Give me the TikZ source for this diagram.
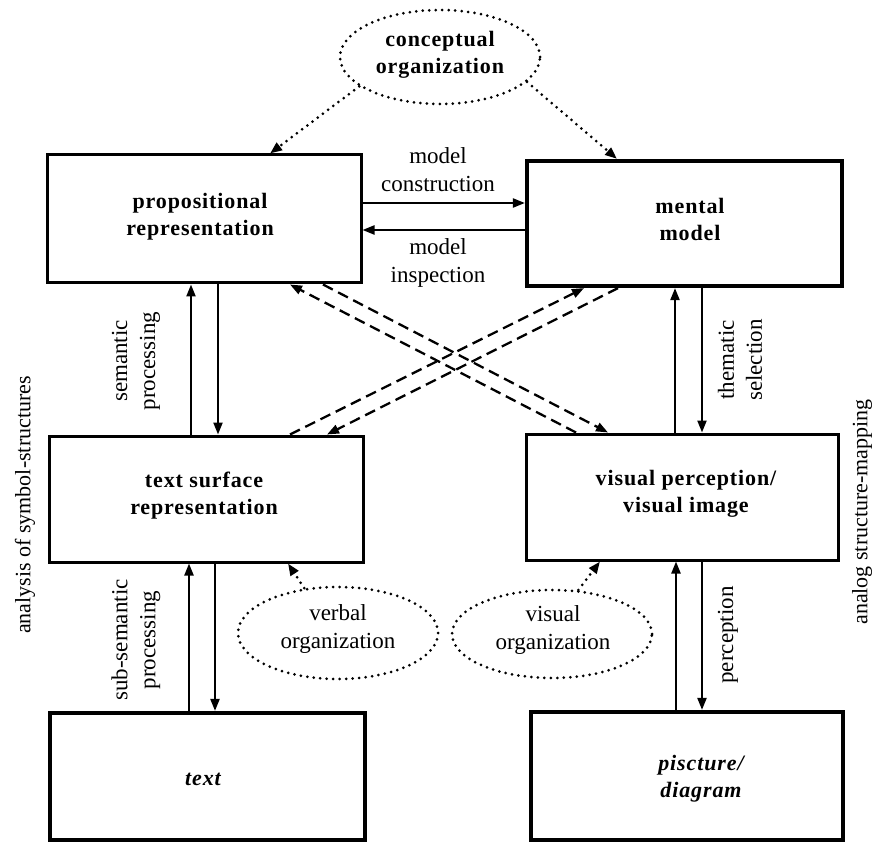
\documentclass[tikz,border=0pt]{standalone}
\usepackage{fontspec}
\setmainfont{Liberation Serif}
\usetikzlibrary{arrows.meta,shapes.geometric,calc}

\newcommand{\regfont}{\fontsize{23}{28}\selectfont}
\newcommand{\boldfont}{\fontsize{22}{27}\selectfont\bfseries\addfontfeatures{LetterSpace=4}}

\begin{document}
\begin{tikzpicture}[x=1pt,y=-1pt,
  box/.style={draw, line width=3pt, inner sep=0pt},
  thickbox/.style={box, line width=4.2pt},
  boxtext/.style={align=center, inner sep=0pt, font=\boldfont},
  plain/.style={align=center, inner sep=0pt, font=\regfont},
  sidelabel/.style={rotate=90, inner sep=0pt, font=\fontsize{22}{27}\selectfont},
  tip/.style={-{Triangle[length=12pt,width=9pt]}},
  arr/.style={tip, line width=2.2pt},
  dash2/.style={tip, line width=2.3pt, dash pattern=on 11pt off 6pt},
  dots/.style={line width=3pt, dash pattern=on 0pt off 6.5pt, line cap=round},
  cloud/.style={ellipse, draw, dots, inner sep=0pt},
]
\useasboundingbox (0,0) rectangle (876,842);

% --- boxes ---
\node[box, minimum width=314pt, minimum height=128pt] (prop) at (204,219) {};
\node[thickbox, minimum width=315pt, minimum height=125pt] (mm) at (684.5,223.5) {};
\node[box, minimum width=314pt, minimum height=126pt] (txs) at (206,499) {};
\node[box, minimum width=312pt, minimum height=126pt] (vis) at (682,497) {};
\node[thickbox, minimum width=315pt, minimum height=127pt] (txt) at (207.5,776.5) {};
\node[thickbox, minimum width=312pt, minimum height=128pt] (pic) at (687,776) {};

% --- box texts ---
\node[boxtext] (propT) at (200,217) {propositional\\representation};
\node[boxtext] (mmT) at (690,219) {mental\\model};
\node[boxtext] (txsT) at (204,496) {text surface\\representation};
\node[boxtext] (visT) at (686,494) {visual perception/\\visual image};
\node[boxtext, font=\boldfont\itshape] (txtT) at (203,779) {text};
\node[boxtext, font=\boldfont\itshape] (picT) at (701,779) {piscture/\\diagram};

% --- organization clouds ---
\node[cloud, minimum width=200pt, minimum height=94pt] (conc) at (440,57) {};
\node[boxtext] (concT) at (440,55) {conceptual\\organization};
\node[cloud, minimum width=200pt, minimum height=92pt] (verb) at (338,633) {};
\node[plain] (verbT) at (338,629) {verbal\\organization};
\node[cloud, minimum width=200pt, minimum height=88pt] (visu) at (552,634) {};
\node[plain] (visuT) at (553,630) {visual\\organization};

% --- model construction / inspection (yshift is upward on the page) ---
\draw[arr] ([yshift=16pt]prop.east) -- ([yshift=16pt]prop.east -| mm.west);
\draw[arr] ([yshift=-11pt]mm.west |- prop.east) -- ([yshift=-11pt]prop.east);
\node[plain] (consL) at (438,170) {model\\construction};
\node[plain] (inspL) at (438,263) {model\\inspection};

% --- vertical connectors, left column ---
\draw[arr] ([xshift=-15pt]txs.north) -- ([xshift=-15pt]txs.north |- prop.south);
\draw[arr] ([xshift=12pt]txs.north |- prop.south) -- ([xshift=12pt]txs.north);
\draw[arr] ([xshift=-18.5pt]txt.north) -- ([xshift=-18.5pt]txt.north |- txs.south);
\draw[arr] ([xshift=7.5pt]txt.north |- txs.south) -- ([xshift=7.5pt]txt.north);
\node[plain, rotate=90] (semL) at (136,361) {semantic\\processing};
\node[plain, rotate=90] (subL) at (136,640) {sub-semantic\\processing};

% --- vertical connectors, right column ---
\draw[arr] ([xshift=-7pt]vis.north) -- ([xshift=-7pt]vis.north |- mm.south);
\draw[arr] ([xshift=20pt]vis.north |- mm.south) -- ([xshift=20pt]vis.north);
\draw[arr] ([xshift=-11pt]pic.north) -- ([xshift=-11pt]pic.north |- vis.south);
\draw[arr] ([xshift=15pt]pic.north |- vis.south) -- ([xshift=15pt]pic.north);
\node[plain, rotate=90] (themL) at (740,360) {thematic\\selection};
\node[plain, rotate=90] (percL) at (728,635) {perception};

% --- crossing dashed connectors ---
\draw[dash2] ([xshift=-106pt]vis.north) -- ([xshift=86pt]prop.south);
\draw[dash2] ([xshift=119pt]prop.south) -- ([xshift=-74pt]vis.north);
\draw[dash2] ([xshift=84pt]txs.north) -- ([xshift=-100.5pt]mm.south);
\draw[dash2] ([xshift=-66.5pt]mm.south) -- ([xshift=121pt]txs.north);

% --- dotted influence arrows ---
\draw[dots, tip] (conc.200) -- ([xshift=66pt]prop.north);
\draw[dots, tip] (conc.344) -- ([xshift=-67.5pt]mm.north);
\draw[dots, tip] (verb.127) -- ([xshift=82pt]txs.south);
\draw[dots, tip] (visu.59) -- ([xshift=-82pt]vis.south);

% --- side captions ---
\node[sidelabel] (leftL) at (25,505) {analysis of symbol-structures};
\node[sidelabel] (rightL) at (862,512) {analog structure-mapping};
\end{tikzpicture}
\end{document}
